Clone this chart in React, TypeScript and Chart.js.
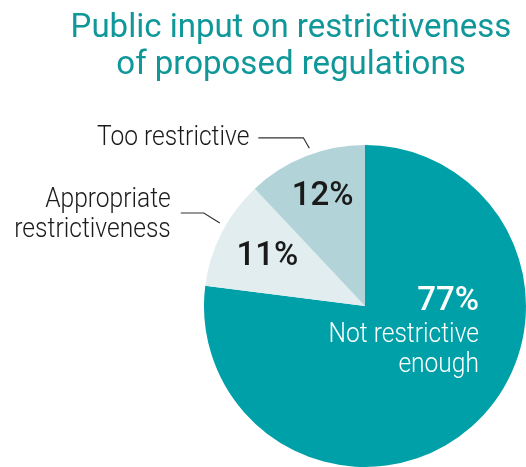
import React, { useEffect, useRef } from "react";
import { Chart, registerables } from "chart.js";

Chart.register(...registerables);

const categories = ["Not restrictive enough", "Appropriate restrictiveness", "Too restrictive"];
const values = [77, 11, 12];
const colors = ["#00A0A8", "#E1EDEE", "#B2D3D8"];
const titleLines = ["Public input on restrictiveness", "of proposed regulations"];

const W = 526;
const H = 467;
const SX = 0.91;

function condText(ctx: CanvasRenderingContext2D, text: string, x: number, y: number, align: "left" | "right" | "center") {
  ctx.save();
  ctx.translate(x, y);
  ctx.scale(SX, 1);
  ctx.textAlign = align;
  ctx.fillText(text, 0, 0);
  ctx.restore();
}

const overlay = {
  id: "overlay",
  afterDraw(chart: any) {
    const ctx: CanvasRenderingContext2D = chart.ctx;
    const meta = chart.getDatasetMeta(0);
    const arcs = meta.data;
    const cx = arcs[0].x;
    const cy = arcs[0].y;
    const r = arcs[0].outerRadius;
    const mid = (i: number) => (arcs[i].startAngle + arcs[i].endAngle) / 2;
    const pt = (i: number, f: number) => ({ x: cx + Math.cos(mid(i)) * r * f, y: cy + Math.sin(mid(i)) * r * f });

    ctx.save();
    // title
    ctx.fillStyle = "#0F9799";
    ctx.font = "400 33px Roboto";
    ctx.textAlign = "center";
    ctx.textBaseline = "alphabetic";
    ctx.fillText(titleLines[0], 291, 37);
    ctx.fillText(titleLines[1], 291, 74);

    // percent labels
    ctx.textBaseline = "middle";
    ctx.fillStyle = "#1a1a1a";
    ctx.font = "500 33px Roboto";
    ctx.textAlign = "center";
    const p2 = pt(2, 0.73);
    ctx.fillText(values[2] + "%", p2.x + 1, p2.y);
    const p1 = pt(1, 0.68);
    ctx.fillText(values[1] + "%", p1.x, p1.y);

    // big slice label
    ctx.textBaseline = "alphabetic";
    ctx.fillStyle = "#ffffff";
    ctx.font = "500 33px Roboto";
    ctx.textAlign = "right";
    ctx.fillText(values[0] + "%", cx + 114, cy + 4);
    ctx.font = "300 27px Roboto";
    condText(ctx, "Not restrictive", cx + 114, cy + 36, "right");
    condText(ctx, "enough", cx + 114, cy + 66, "right");

    // callouts
    ctx.strokeStyle = "#333333";
    ctx.lineWidth = 1.2;
    ctx.fillStyle = "#1a1a1a";
    ctx.font = "300 27px Roboto";

    const b2 = pt(2, 1.04);
    const e2 = { x: b2.x + 6, y: b2.y - 2 };
    ctx.beginPath();
    ctx.moveTo(e2.x, e2.y);
    ctx.lineTo(e2.x - 6, e2.y - 10.5);
    ctx.lineTo(e2.x - 51, e2.y - 10.5);
    ctx.stroke();
    condText(ctx, "Too restrictive", e2.x - 60, e2.y - 3, "right");

    const b1 = pt(1, 1.04);
    const e1 = { x: b1.x + 4, y: b1.y - 7 };
    ctx.beginPath();
    ctx.moveTo(e1.x, e1.y);
    ctx.lineTo(e1.x - 16, e1.y - 10);
    ctx.lineTo(e1.x - 39, e1.y - 10);
    ctx.stroke();
    condText(ctx, "Appropriate", e1.x - 49, e1.y - 16, "right");
    condText(ctx, "restrictiveness", e1.x - 49, e1.y + 14, "right");
    ctx.restore();
  },
};

export default function App() {
  const ref = useRef<HTMLCanvasElement | null>(null);
  useEffect(() => {
    if (!ref.current) return;
    const chart = new Chart(ref.current, {
      type: "pie",
      data: {
        labels: categories,
        datasets: [
          {
            data: values,
            backgroundColor: colors,
            borderWidth: 0,
          },
        ],
      },
      options: {
        animation: false,
        responsive: false,
        layout: { padding: { left: 204, right: 0, top: 145, bottom: 0 } },
        plugins: {
          legend: { display: false },
          tooltip: { enabled: false },
          title: { display: false },
        },
      },
      plugins: [overlay],
    });
    return () => chart.destroy();
  }, []);
  return (
    <div style={{ position: "absolute", left: 0, top: 0, width: W, height: H, background: "#fff" }}>
      <canvas ref={ref} width={W} height={H} style={{ width: W, height: H }} />
    </div>
  );
}
